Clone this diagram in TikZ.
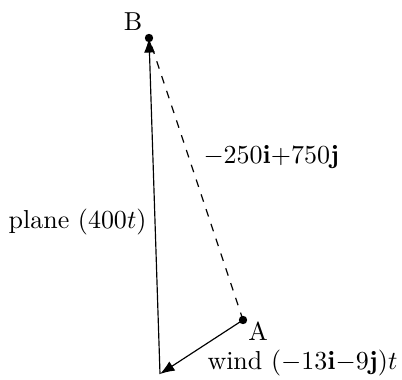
\documentclass[tikz,border=0pt]{standalone}
\usetikzlibrary{arrows.meta}
\begin{document}
\begin{tikzpicture}[x=0.385pt,y=-0.385pt,
  vec/.style={-{Latex[length=5.6pt,width=4.2pt]},line width=0.45pt},
  dashvec/.style={dashed,line width=0.45pt},
  lbl/.style={inner sep=0pt}]
\useasboundingbox (0,0) rectangle (402,380);
\coordinate (B) at (149,38);
\coordinate (A) at (243,320);
\coordinate (C) at (160,374);
\draw[dashvec] (A) -- (B);
\draw[vec] (A) -- (C);
\draw[vec] (C) -- (B);
\fill (A) circle (4.2);
\fill (B) circle (4.2);
\node[lbl] (lB) at (133,22) {B};
\node[lbl] (lA) at (258,331) {A};
\node[lbl,anchor=base west] (lw) at (207,369) {wind $(-13\mathbf{i}{-}9\mathbf{j})t$};
\node[lbl,anchor=base east] (lp) at (147,229) {plane $(400t)$};
\node[lbl,anchor=base west] (ld) at (203,164) {$-250\mathbf{i}{+}750\mathbf{j}$};
\end{tikzpicture}
\end{document}
